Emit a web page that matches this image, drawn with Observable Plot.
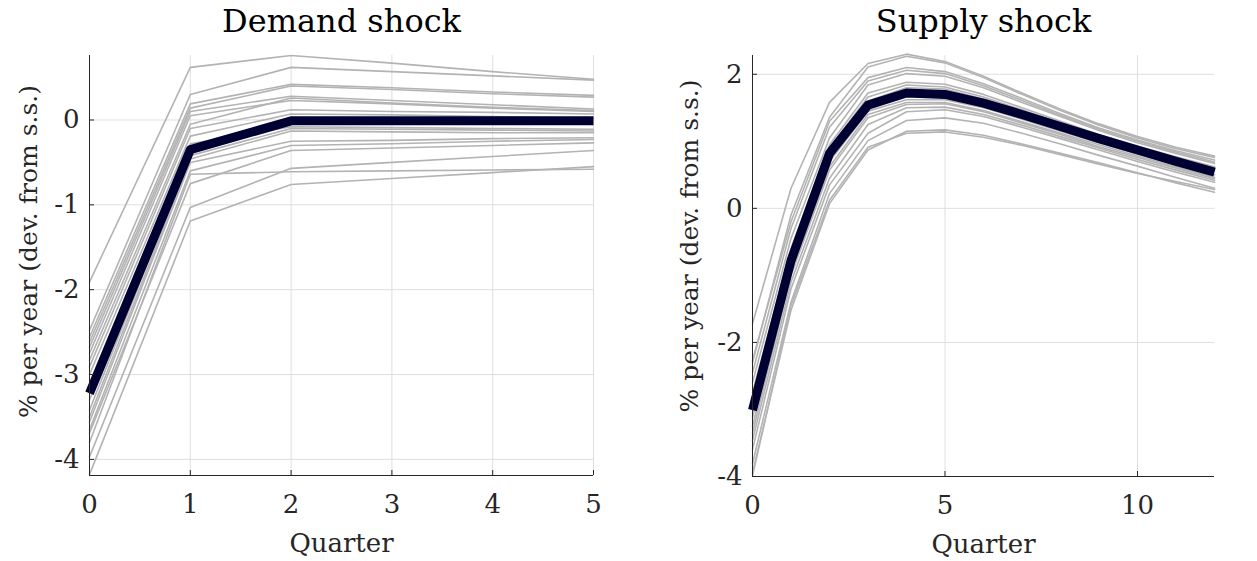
<!DOCTYPE html>
<html><head><meta charset="utf-8">
<script src="https://cdn.jsdelivr.net/npm/d3@7"></script>
<script src="https://cdn.jsdelivr.net/npm/@observablehq/plot@0.6"></script>
<style>
body{margin:0;background:#fff;}
#wrap{display:flex;width:1257px;height:561px;}
svg{overflow:visible;}
</style></head><body><div id="wrap"></div>
<script>
// ---------- Demand shock ----------
const demandTitle = "Demand shock";
const demandQuarters = [0, 1, 2, 3, 4, 5];
const demandXTicks = [0, 1, 2, 3, 4, 5];
const demandYTicks = [-4, -3, -2, -1, 0];
const demandMean = [-3.22, -0.35, -0.01, -0.01, -0.01, -0.01];
const demandDraws = [
  [-1.91, 0.62, 0.76, 0.67, 0.57, 0.48],
  [-2.48, 0.30, 0.62, 0.57, 0.52, 0.47],
  [-2.56, 0.19, 0.42, 0.38, 0.33, 0.29],
  [-2.62, 0.14, 0.40, 0.36, 0.31, 0.27],
  [-2.68, 0.10, 0.28, 0.23, 0.18, 0.13],
  [-2.75, 0.05, 0.23, 0.19, 0.14, 0.10],
  [-2.83, -0.05, 0.26, 0.20, 0.15, 0.11],
  [-2.91, -0.10, 0.12, 0.10, 0.09, 0.07],
  [-3.00, -0.19, 0.07, 0.06, 0.04, 0.02],
  [-3.30, -0.28, -0.08, -0.09, -0.10, -0.11],
  [-3.42, -0.42, -0.10, -0.11, -0.12, -0.13],
  [-3.50, -0.46, -0.13, -0.14, -0.15, -0.15],
  [-3.56, -0.50, -0.25, -0.24, -0.22, -0.21],
  [-3.65, -0.60, -0.30, -0.28, -0.25, -0.23],
  [-3.69, -0.75, -0.36, -0.33, -0.30, -0.27],
  [-3.97, -1.03, -0.57, -0.50, -0.43, -0.36],
  [-3.80, -0.64, -0.61, -0.60, -0.59, -0.58],
  [-4.18, -1.19, -0.76, -0.69, -0.62, -0.55]
];

// ---------- Supply shock ----------
const supplyTitle = "Supply shock";
const supplyQuarters = [0, 1, 2, 3, 4, 5, 6, 7, 8, 9, 10, 11, 12];
const supplyXTicks = [0, 5, 10];
const supplyYTicks = [-4, -2, 0, 2];
const supplyMean = [-3.01, -0.78, 0.82, 1.54, 1.72, 1.70, 1.57, 1.40, 1.22, 1.04, 0.87, 0.70, 0.54];
const supplyDraws = [
  [-1.72, 0.30, 1.58, 2.16, 2.30, 2.19, 1.97, 1.72, 1.48, 1.26, 1.07, 0.91, 0.78],
  [-2.30, -0.10, 1.36, 2.11, 2.27, 2.17, 1.95, 1.70, 1.46, 1.24, 1.05, 0.89, 0.76],
  [-2.27, -0.20, 1.30, 1.95, 2.10, 2.04, 1.86, 1.64, 1.41, 1.20, 1.02, 0.86, 0.72],
  [-2.45, -0.30, 1.21, 1.90, 2.06, 2.01, 1.83, 1.61, 1.39, 1.18, 1.00, 0.84, 0.69],
  [-2.60, -0.45, 1.05, 1.84, 2.01, 1.97, 1.80, 1.58, 1.37, 1.16, 0.98, 0.82, 0.67],
  [-2.75, -0.60, 0.95, 1.72, 1.88, 1.85, 1.70, 1.50, 1.30, 1.10, 0.93, 0.77, 0.62],
  [-2.85, -0.70, 0.90, 1.66, 1.84, 1.81, 1.66, 1.47, 1.27, 1.08, 0.90, 0.74, 0.60],
  [-2.95, -0.75, 0.85, 1.60, 1.80, 1.78, 1.63, 1.44, 1.24, 1.05, 0.88, 0.72, 0.57],
  [-3.12, -0.85, 0.70, 1.45, 1.62, 1.62, 1.50, 1.33, 1.15, 0.98, 0.81, 0.65, 0.50],
  [-3.25, -0.95, 0.62, 1.40, 1.58, 1.58, 1.46, 1.29, 1.12, 0.95, 0.78, 0.62, 0.46],
  [-3.35, -1.00, 0.57, 1.35, 1.55, 1.56, 1.44, 1.27, 1.10, 0.92, 0.76, 0.60, 0.44],
  [-3.46, -1.10, 0.45, 1.25, 1.50, 1.51, 1.40, 1.24, 1.07, 0.90, 0.73, 0.57, 0.42],
  [-3.60, -1.20, 0.35, 1.12, 1.44, 1.47, 1.37, 1.21, 1.04, 0.87, 0.70, 0.54, 0.39],
  [-3.81, -1.40, 0.22, 1.01, 1.31, 1.35, 1.27, 1.12, 0.96, 0.79, 0.63, 0.46, 0.30],
  [-3.95, -1.52, 0.07, 0.87, 1.15, 1.17, 1.09, 0.96, 0.82, 0.68, 0.53, 0.38, 0.24],
  [-3.99, -1.45, 0.12, 0.91, 1.12, 1.14, 1.06, 0.94, 0.80, 0.66, 0.52, 0.40, 0.28]
];

const xLabel = "Quarter";
const yLabel = "% per year (dev. from s.s.)";

const FONT = "DejaVu Serif";
const AX = "#262626";

function panel(cfg) {
  const H = 561;
  const innerW = cfg.width - cfg.marginLeft - cfg.marginRight;
  const innerH = H - cfg.marginTop - cfg.marginBottom;
  const rows = cfg.draws.flatMap((s, i) => s.map((v, j) => ({q: cfg.quarters[j], v, id: i})));
  const meanRows = cfg.mean.map((v, j) => ({q: cfg.quarters[j], v}));
  return Plot.plot({
    width: cfg.width,
    height: H,
    marginLeft: cfg.marginLeft,
    marginRight: cfg.marginRight,
    marginTop: cfg.marginTop,
    marginBottom: cfg.marginBottom,
    x: {domain: cfg.xDomain},
    y: {domain: cfg.yDomain},
    style: {fontFamily: FONT, background: "#fff", color: AX, overflow: "visible"},
    marks: [
      Plot.gridX(cfg.xTicks, {x: d => d, stroke: "#dfdfdf", strokeOpacity: 1, strokeWidth: 1}),
      Plot.gridY(cfg.yTicks, {y: d => d, stroke: "#dfdfdf", strokeOpacity: 1, strokeWidth: 1}),
      Plot.line(rows, {x: "q", y: "v", z: "id", stroke: "#b3b3b3", strokeWidth: 1.6}),
      Plot.line(meanRows, {x: "q", y: "v", stroke: "#000033", strokeWidth: 9, strokeLinejoin: "round", strokeLinecap: "butt"}),
      Plot.ruleX([cfg.xDomain[0]], {stroke: AX, strokeWidth: 1}),
      Plot.ruleY([cfg.yDomain[0]], {stroke: AX, strokeWidth: 1}),
      Plot.tickX(cfg.xTicks, {x: d => d, insetTop: innerH - 5, stroke: AX, strokeWidth: 1}),
      Plot.tickY(cfg.yTicks, {y: d => d, insetRight: innerW - 5, stroke: AX, strokeWidth: 1}),
      Plot.axisX({ticks: cfg.xTicks, tickSize: 0, tickPadding: 19, label: null, fontSize: 26, fill: AX, tickFormat: d => String(d)}),
      Plot.axisY({ticks: cfg.yTicks, tickSize: 0, tickPadding: 10, label: null, fontSize: 26, fill: AX, tickFormat: d => String(d)}),
      Plot.text([cfg.title], {frameAnchor: "top", dy: -24, lineAnchor: "bottom", fontSize: 32, fill: "#000"}),
      Plot.text([xLabel], {frameAnchor: "bottom", dy: 76, lineAnchor: "bottom", fontSize: 26, fill: AX}),
      Plot.text([yLabel], {frameAnchor: "left", textAnchor: "middle", lineAnchor: "middle", dx: cfg.yLabelDx, dy: cfg.yLabelDy, rotate: -90, fontSize: 25, fill: AX})
    ]
  });
}

const wrap = document.getElementById("wrap");
wrap.appendChild(panel({
  width: 620, marginLeft: 89, marginRight: 27, marginTop: 55, marginBottom: 86,
  quarters: demandQuarters, draws: demandDraws, mean: demandMean,
  xDomain: [0, 5], yDomain: [-4.19, 0.76], xTicks: demandXTicks, yTicks: demandYTicks,
  title: demandTitle, yLabelDx: -61, yLabelDy: -14
}));
wrap.appendChild(panel({
  width: 637, marginLeft: 132, marginRight: 43, marginTop: 55, marginBottom: 85,
  quarters: supplyQuarters, draws: supplyDraws, mean: supplyMean,
  xDomain: [0, 12], yDomain: [-4, 2.28], xTicks: supplyXTicks, yTicks: supplyYTicks,
  title: supplyTitle, yLabelDx: -63, yLabelDy: -20
}));
</script>
</body></html>
